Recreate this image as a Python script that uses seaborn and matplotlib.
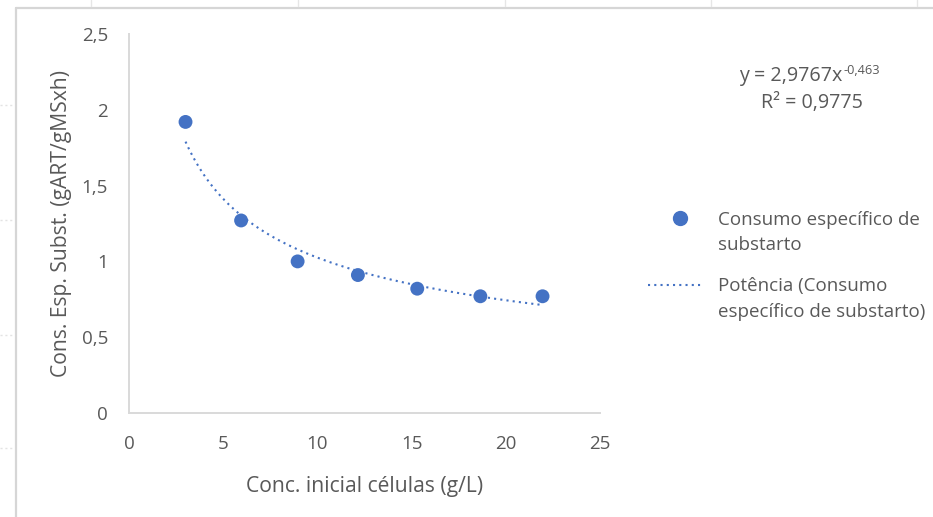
import numpy as np
import pandas as pd
import matplotlib
matplotlib.use("Agg")
import matplotlib.pyplot as plt
from matplotlib.lines import Line2D
import seaborn as sns

# Initial cell concentration (g/L) and specific substrate consumption
conc_inicial = [3.0, 5.95, 8.95, 12.15, 15.3, 18.65, 21.95]
consumo_especifico = [1.92, 1.27, 1.00, 0.91, 0.82, 0.77, 0.77]

# Power trendline coefficients: y = a * x^b
coef_a = 2.9767
coef_b = -0.463
r2_label = "0,9775"

x_ticks = [0, 5, 10, 15, 20, 25]
y_ticks = [0, 0.5, 1, 1.5, 2, 2.5]
y_tick_labels = ["0", "0,5", "1", "1,5", "2", "2,5"]

serie_label = ["Consumo específico de", "substarto"]
trend_label = ["Potência (Consumo", "específico de substarto)"]

BLUE = "#4472C4"
TEXT = "#595959"
AXIS = "#d9d9d9"
FS = 13.5        # tick labels, legend
FS_EQ = 14.2     # trendline equation
FS_TITLE = 15.2  # axis titles

sns.set_theme(style="white")
plt.rcParams["font.family"] = ["Open Sans", "DejaVu Sans"]

W, H = 933, 517
fig = plt.figure(figsize=(W / 100, H / 100), dpi=100)
fig.patch.set_facecolor("white")


def fx(px):
    return px / W


def fy(py):
    return 1 - py / H


ax = fig.add_axes([fx(129), fy(413), fx(600) - fx(129), fy(34) - fy(413)])

df = pd.DataFrame({"conc": conc_inicial, "consumo": consumo_especifico})

# fitted power curve over the measured range
xs = np.linspace(min(conc_inicial), max(conc_inicial), 300)
trend = pd.DataFrame({"conc": xs, "consumo": coef_a * xs ** coef_b})

sns.scatterplot(data=df, x="conc", y="consumo", ax=ax, s=100, color=BLUE,
                edgecolor="none", zorder=3, legend=False)
sns.lineplot(data=trend, x="conc", y="consumo", ax=ax, color=BLUE, lw=1.5,
             linestyle=(0, (1, 2)), dash_capstyle="butt", zorder=4, legend=False)

ax.set_xlim(0, 25)
ax.set_ylim(0, 2.5)
ax.set_xticks(x_ticks)
ax.set_xticklabels([str(t) for t in x_ticks])
ax.set_yticks(y_ticks)
ax.set_yticklabels(y_tick_labels)
ax.tick_params(axis="both", length=0, labelsize=FS, labelcolor=TEXT)
ax.tick_params(axis="y", pad=15)
ax.tick_params(axis="x", pad=15.5)
ax.grid(False)
for side in ("top", "right"):
    ax.spines[side].set_visible(False)
for side in ("left", "bottom"):
    ax.spines[side].set_color(AXIS)
    ax.spines[side].set_linewidth(1.4)

ax.set_xlabel("Conc. inicial células (g/L)", fontsize=FS_TITLE, color=TEXT, labelpad=17)
ax.set_ylabel("Cons. Esp. Subst. (gART/gMSxh)", fontsize=FS_TITLE, color=TEXT, labelpad=7)

# trendline equation and R²
eq = fig.text(fx(739), fy(81), "y = 2,9767x", fontsize=FS_EQ, color=TEXT,
              ha="left", va="baseline")
ax.annotate("-0,463", xy=(1, 0), xycoords=eq, xytext=(0.5, 9),
            textcoords="offset points", fontsize=FS * 0.68, color=TEXT,
            ha="left", va="baseline")
fig.text(fx(812), fy(108), f"R² = {r2_label}", fontsize=FS_EQ, color=TEXT,
         ha="center", va="baseline")

# legend keys and labels
fig.add_artist(Line2D([fx(680)], [fy(218)], transform=fig.transFigure,
                      marker="o", markersize=10, color=BLUE, linestyle="none"))
fig.add_artist(Line2D([fx(648), fx(702)], [fy(285), fy(285)],
                      transform=fig.transFigure, color=BLUE, lw=1.5,
                      linestyle=(0, (1, 2)), dash_capstyle="butt"))
for i, line in enumerate(serie_label):
    fig.text(fx(718), fy(225 + 25.5 * i), line, fontsize=FS, color=TEXT,
             ha="left", va="baseline")
for i, line in enumerate(trend_label):
    fig.text(fx(718), fy(291.5 + 25.5 * i), line, fontsize=FS, color=TEXT,
             ha="left", va="baseline")

# surrounding sheet frame and cell gridlines
FRAME = "#d6d6d6"
fig.add_artist(Line2D([fx(16), 1], [fy(7.5), fy(7.5)], transform=fig.transFigure,
                      color=FRAME, lw=1.6))
fig.add_artist(Line2D([fx(16), fx(16)], [fy(7.5), 0], transform=fig.transFigure,
                      color=FRAME, lw=1.6))
for px in (91, 298, 505, 711, 917):
    fig.add_artist(Line2D([fx(px), fx(px)], [1, fy(6)], transform=fig.transFigure,
                          color="#e6e6e6", lw=1.0))
for py in (105, 220, 335, 448):
    fig.add_artist(Line2D([0, fx(13)], [fy(py), fy(py)], transform=fig.transFigure,
                          color="#e3e3e3", lw=1.0, linestyle=(0, (1.5, 2))))

fig.savefig("out.png", dpi=100)
